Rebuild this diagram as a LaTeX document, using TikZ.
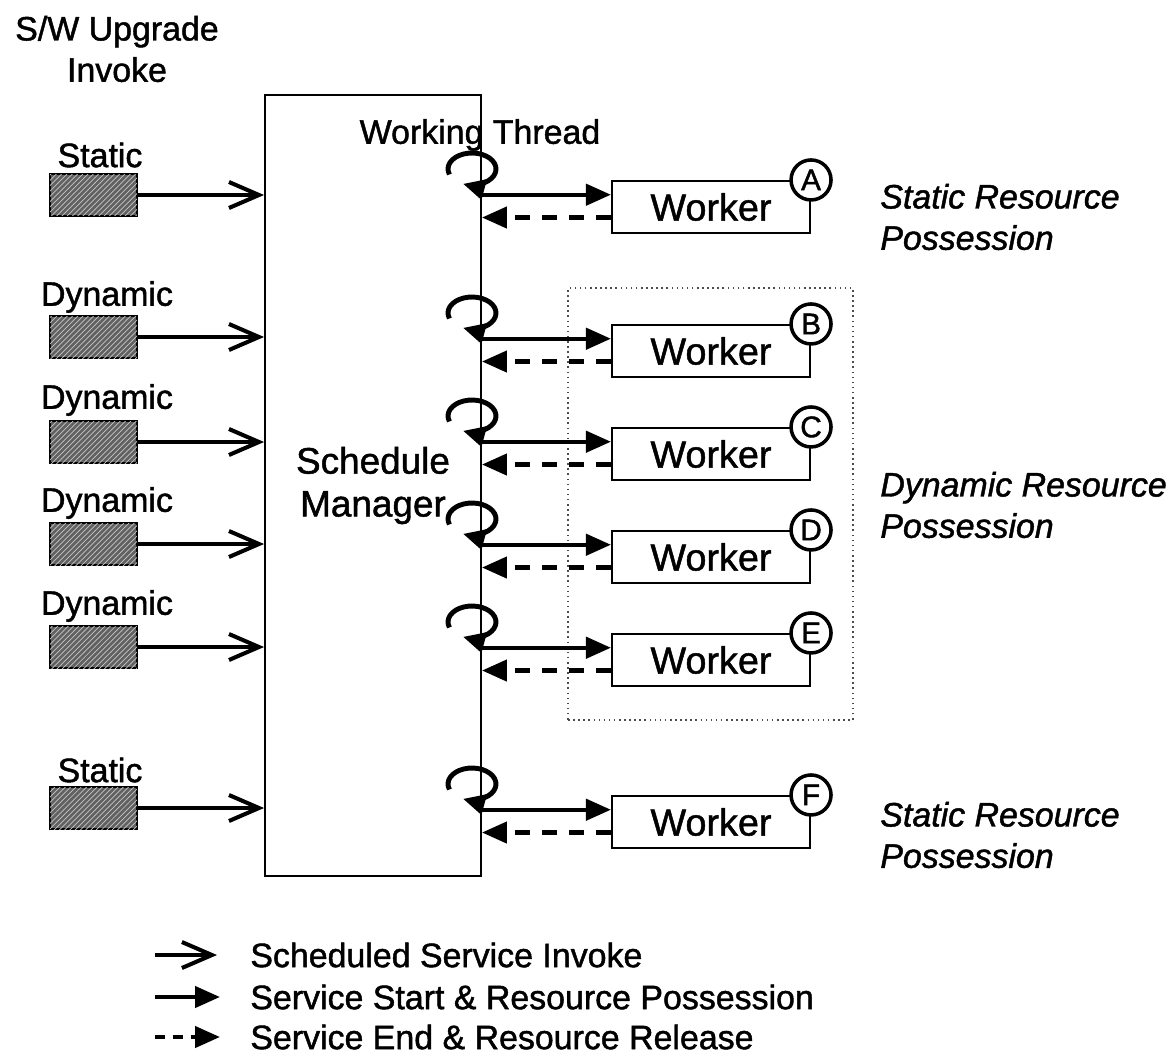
\documentclass[tikz,border=0pt]{standalone}
\usepackage{fontspec}
\setmainfont{Liberation Sans}[FakeBold=1.3]
\usetikzlibrary{arrows.meta,patterns,positioning}

\tikzset{
  lbl/.style={inner sep=0pt,font=\fontsize{19.3}{23.5}\selectfont,align=center},
  side/.style={lbl,anchor=west,align=left,font=\fontsize{19.3}{23.5}\selectfont\itshape},
  keytxt/.style={lbl,anchor=west},
  inbox/.style={draw=black,line width=1.5pt,minimum width=1.74cm,minimum height=0.84cm,inner sep=0pt,
    fill=black!62,postaction={pattern=north east lines,pattern color=gray!45}},
  mgr/.style={draw,line width=1.1pt,minimum width=4.32cm,minimum height=15.62cm,inner sep=0pt,
    align=center,font=\fontsize{21}{24.4}\selectfont},
  workerbox/.style={draw,line width=1.2pt,minimum width=3.96cm,minimum height=1.04cm,inner sep=0pt,
    font=\fontsize{21.5}{24}\selectfont},
  tag/.style={circle,draw,line width=2pt,fill=white,minimum size=0.8cm,inner sep=0pt,
    font=\fontsize{17}{17}\selectfont},
  region/.style={draw=black!70,dotted,line width=0.9pt,minimum width=5.7cm,minimum height=8.64cm},
  invoke/.style={line width=2.3pt,-{Straight Barb[length=6mm,width=5.2mm]}},
  possess/.style={line width=2.5pt,-{Triangle[length=5mm,width=4.2mm]}},
  release/.style={possess,dash pattern=on 3mm off 2.4mm},
  thread/.style={line width=2.8pt,-{Triangle[length=4.4mm,width=4mm]}}
}

\begin{document}
\begin{tikzpicture}[x=0.02cm,y=-0.02cm]
\useasboundingbox (0,0) rectangle (1172,1058);

% schedule manager and the invokers
\node[mgr] (sm) at (373,485.5) {Schedule\\Manager};
\node[lbl] (sw) at (117,49) {S/W Upgrade\\Invoke};

\node[inbox] (inA) at (93.5,195) {};
\node[inbox] (inB) at (93.5,337) {};
\node[inbox] (inC) at (93.5,442) {};
\node[inbox] (inD) at (93.5,544) {};
\node[inbox] (inE) at (93.5,647) {};
\node[inbox] (inF) at (93.5,808) {};
\node[lbl] (lA) at (100,155) {Static};
\node[lbl] (lB) at (107,297) {Dynamic};
\node[lbl] (lC) at (107,400) {Dynamic};
\node[lbl] (lD) at (107,503) {Dynamic};
\node[lbl] (lE) at (107,606) {Dynamic};
\node[lbl] (lF) at (100,770) {Static};

\draw[invoke] (inA) -- (inA -| sm.west);
\draw[invoke] (inB) -- (inB -| sm.west);
\draw[invoke] (inC) -- (inC -| sm.west);
\draw[invoke] (inD) -- (inD -| sm.west);
\draw[invoke] (inE) -- (inE -| sm.west);
\draw[invoke] (inF) -- (inF -| sm.west);

% workers
\node[region] (dyn) at (710.5,504) {};
\node[workerbox] (wA) at (711,207) {Worker};
\node[workerbox] (wB) at (711,351) {Worker};
\node[workerbox] (wC) at (711,454) {Worker};
\node[workerbox] (wD) at (711,557) {Worker};
\node[workerbox] (wE) at (711,660) {Worker};
\node[workerbox] (wF) at (711,822) {Worker};
\node[tag] (tgA) at (wA.north east) {A};
\node[tag] (tgB) at (wB.north east) {B};
\node[tag] (tgC) at (wC.north east) {C};
\node[tag] (tgD) at (wD.north east) {D};
\node[tag] (tgE) at (wE.north east) {E};
\node[tag] (tgF) at (wF.north east) {F};

\node[lbl] (wt) at (480,135) {Working Thread};
\node[side] (pA) at (880,217) {Static Resource\\Possession};
\node[side] (pD) at (880,505) {Dynamic Resource\\Possession};
\node[side] (pF) at (880,835) {Static Resource\\Possession};

% working threads
\coordinate (tA) at (472,169);
\coordinate (tB) at (472,313);
\coordinate (tC) at (472,416);
\coordinate (tD) at (472,519);
\coordinate (tE) at (472,622);
\coordinate (tF) at (472,784);
\draw[thread] ([shift={(-200:24 and 16)}]tA) arc[start angle=-200,end angle=112,x radius=24,y radius=16];
\draw[thread] ([shift={(-200:24 and 16)}]tB) arc[start angle=-200,end angle=112,x radius=24,y radius=16];
\draw[thread] ([shift={(-200:24 and 16)}]tC) arc[start angle=-200,end angle=112,x radius=24,y radius=16];
\draw[thread] ([shift={(-200:24 and 16)}]tD) arc[start angle=-200,end angle=112,x radius=24,y radius=16];
\draw[thread] ([shift={(-200:24 and 16)}]tE) arc[start angle=-200,end angle=112,x radius=24,y radius=16];
\draw[thread] ([shift={(-200:24 and 16)}]tF) arc[start angle=-200,end angle=112,x radius=24,y radius=16];

\draw[possess] (sm.east |- wA.173) -- (wA.173);
\draw[release] (wA.186) -- (sm.east |- wA.186);
\draw[possess] (sm.east |- wB.173) -- (wB.173);
\draw[release] (wB.186) -- (sm.east |- wB.186);
\draw[possess] (sm.east |- wC.173) -- (wC.173);
\draw[release] (wC.186) -- (sm.east |- wC.186);
\draw[possess] (sm.east |- wD.173) -- (wD.173);
\draw[release] (wD.186) -- (sm.east |- wD.186);
\draw[possess] (sm.east |- wE.173) -- (wE.173);
\draw[release] (wE.186) -- (sm.east |- wE.186);
\draw[possess] (sm.east |- wF.173) -- (wF.173);
\draw[release] (wF.186) -- (sm.east |- wF.186);

% legend
\node[keytxt] (k1) at (250,955) {Scheduled Service Invoke};
\node[keytxt] (k2) at (250,997) {Service Start \& Resource Possession};
\node[keytxt] (k3) at (250,1037) {Service End \& Resource Release};
\coordinate (k1s) at (155,955);
\coordinate (k2s) at (155,997);
\coordinate (k3s) at (155,1037);
\draw[invoke] (k1s) -- ++(62,0);
\draw[possess] (k2s) -- ++(65,0);
\draw[possess,dash pattern=on 2mm off 1.6mm] (k3s) -- ++(65,0);
\end{tikzpicture}
\end{document}
